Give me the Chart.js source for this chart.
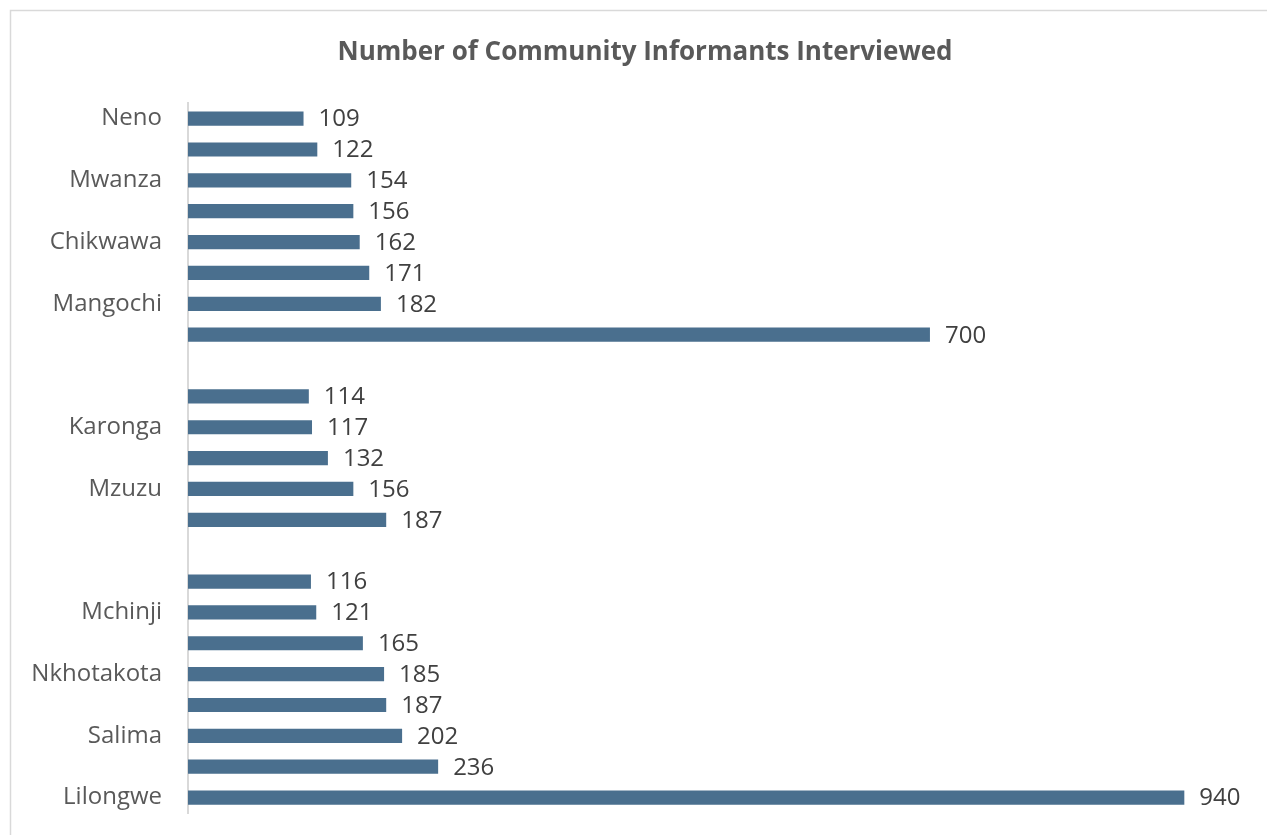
<!DOCTYPE html>
<html>
<head>
<meta charset="utf-8">
<script src="https://cdn.jsdelivr.net/npm/chart.js@4"></script>
<style>
  html, body { margin: 0; padding: 0; background: #ffffff; }
  #wrap { position: relative; width: 1267px; height: 835px; }
</style>
</head>
<body>
<div id="wrap"><canvas id="c" width="1267" height="835"></canvas></div>
<script>
const titleText = 'Number of Community Informants Interviewed';
const categories = ['Neno', '', 'Mwanza', '', 'Chikwawa', '', 'Mangochi', '', '', '', 'Karonga', '', 'Mzuzu', '', '', '', 'Mchinji', '', 'Nkhotakota', '', 'Salima', '', 'Lilongwe'];
const informants = [109, 122, 154, 156, 162, 171, 182, 700, null, 114, 117, 132, 156, 187, null, 116, 121, 165, 185, 187, 202, 236, 940];
const xMin = 0;
const xMax = 1018;

const FONT = "'Open Sans', 'DejaVu Sans', sans-serif";

const frame = {
  id: 'frame',
  beforeDraw(chart) {
    const ctx = chart.ctx;
    ctx.save();
    ctx.fillStyle = '#ffffff';
    ctx.fillRect(0, 0, chart.width, chart.height);
    ctx.strokeStyle = '#d9d9d9';
    ctx.lineWidth = 1.5;
    ctx.strokeRect(10.5, 10.5, chart.width + 40, chart.height + 40);
    ctx.restore();
  }
};

const valueLabels = {
  id: 'valueLabels',
  afterDatasetsDraw(chart) {
    const ctx = chart.ctx;
    const meta = chart.getDatasetMeta(0);
    ctx.save();
    ctx.font = '24px ' + FONT;
    ctx.fillStyle = '#404040';
    ctx.textAlign = 'left';
    ctx.textBaseline = 'middle';
    meta.data.forEach((bar, i) => {
      const v = chart.data.datasets[0].data[i];
      if (v === null || v === undefined) return;
      ctx.fillText(String(v), bar.x + 15, bar.y + 1);
    });
    ctx.restore();
  }
};

new Chart(document.getElementById('c'), {
  type: 'bar',
  data: {
    labels: categories,
    datasets: [{
      data: informants,
      backgroundColor: '#4a6f8e',
      borderWidth: 0,
      categoryPercentage: 1,
      barPercentage: 0.46
    }]
  },
  options: {
    indexAxis: 'y',
    responsive: false,
    animation: false,
    devicePixelRatio: 1,
    layout: { padding: { left: 23, right: 0, top: 37, bottom: 22 } },
    plugins: {
      legend: { display: false },
      tooltip: { enabled: false },
      title: {
        display: true,
        text: titleText,
        color: '#595959',
        font: { family: FONT, size: 26, weight: 'bold', lineHeight: 1.2 },
        padding: { top: 0, bottom: 35 }
      }
    },
    scales: {
      x: {
        display: false,
        min: xMin,
        max: xMax
      },
      y: {
        afterFit(scale) {
          scale.width = 165;
          scale.paddingTop = 0;
          scale.paddingBottom = 0;
        },
        grid: { display: false, drawTicks: false },
        border: { display: true, color: '#d9d9d9', width: 2 },
        ticks: {
          autoSkip: false,
          padding: 26,
          color: '#595959',
          font: { family: FONT, size: 24 }
        }
      }
    }
  },
  plugins: [frame, valueLabels]
});
</script>
</body>
</html>
